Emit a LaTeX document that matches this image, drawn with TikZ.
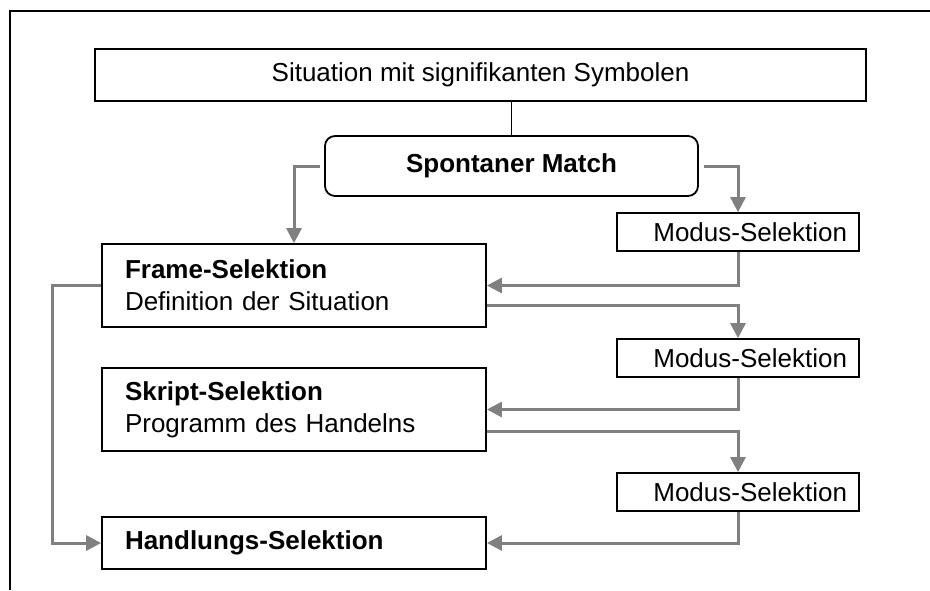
\documentclass[tikz,border=0pt]{standalone}
\usepackage{fontspec}
\setmainfont{Liberation Sans}
\usetikzlibrary{arrows.meta, positioning}
\definecolor{flowgray}{RGB}{128,128,128}

\begin{document}
\begin{tikzpicture}[x=0.5pt, y=-0.5pt, font=\fontsize{13}{16}\selectfont,
  box/.style={draw, line width=0.9pt, inner sep=0pt},
  selbox/.style={box, minimum width=192pt, text width=169pt, inner xsep=11.5pt, align=left},
  modusbox/.style={box, minimum height=19pt, text width=109pt, inner xsep=6pt, align=right},
  flow/.style={draw=flowgray, line width=1.5pt, -{Triangle[length=7.5pt,width=7.5pt]}}]
\useasboundingbox (0,0) rectangle (930,590);

% outer frame (runs off the right and bottom edge)
\draw[line width=0.8pt] (930,11) -- (10,11) -- (10,590);

\node[box, minimum width=385.5pt, minimum height=26pt] (sit) at (480.5,75) {Situation mit signifikanten Symbolen};
\node[box, rounded corners=5pt, minimum width=186.5pt, minimum height=30pt, font=\fontsize{13}{16}\selectfont\bfseries] (match) at (511.5,166) {Spontaner Match};

\node[modusbox] (mod1) at (738,232) {Modus-Selektion};
\node[modusbox] (mod2) at (738,358) {Modus-Selektion};
\node[modusbox] (mod3) at (738,492) {Modus-Selektion};

\node[selbox, minimum height=41.5pt] (frame) at (294,285.5) {\textbf{Frame-Selektion}\\Definition der Situation};
\node[selbox, minimum height=41.5pt] (script) at (294,409.5) {\textbf{Skript-Selektion}\\Programm des Handelns};
\node[selbox, minimum height=26pt] (act) at (294,543) {\textbf{Handlungs-Selektion}};

% connectors
\draw[line width=0.6pt] (sit.south -| match.north) -- (match.north);
\draw[flow, shorten <=2pt] (match.west) -| (frame.north);
\draw[flow, shorten <=2.5pt] (match.east) -| (mod1.north);
\draw[flow] (mod1.south) |- (frame.east);
\draw[flow] ([yshift=-10pt]frame.east) -| (mod2.north);
\draw[flow] (mod2.south) |- (script.east);
\draw[flow] ([yshift=-11pt]script.east) -| (mod3.north);
\draw[flow] (mod3.south) |- (act.east);
\draw[flow] (frame.west) -- ++(-49,0) |- (act.west);

\end{tikzpicture}
\end{document}
